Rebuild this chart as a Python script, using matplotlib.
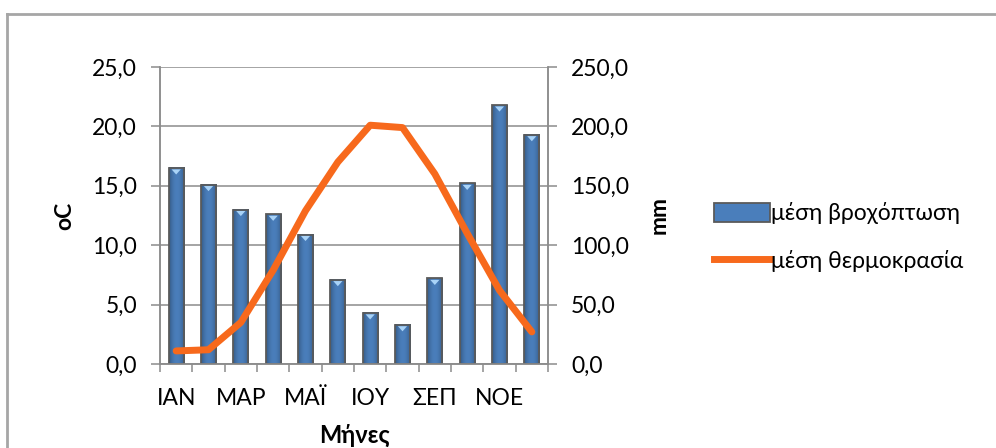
import numpy as np
import matplotlib
matplotlib.use("Agg")
from matplotlib import pyplot as plt
from matplotlib.patches import Rectangle, Polygon
from matplotlib.lines import Line2D
from matplotlib.ticker import FuncFormatter

plt.rcParams["font.family"] = ["Lato", "DejaVu Sans"]

months = ["ΙΑΝ", "ΦΕΒ", "ΜΑΡ", "ΑΠΡ", "ΜΑΪ", "ΙΟΥΝ", "ΙΟΥ", "ΑΥΓ", "ΣΕΠ", "ΟΚΤ", "ΝΟΕ", "ΔΕΚ"]
rain_mm = [165, 151, 130, 126, 109, 71, 43, 33, 72, 152, 218, 193]
temp_c = [1.1, 1.2, 3.5, 7.9, 12.9, 17.0, 20.1, 19.9, 16.0, 11.0, 6.2, 2.7]

rain_label = "μέση βροχόπτωση"
temp_label = "μέση θερμοκρασία"

grey = "#8c8c8c"
bar_blue = "#4a7ebb"
orange = "#f7691c"
fs = 16.5

fig = plt.figure(figsize=(9.96, 4.48), dpi=100)

# outer chart frame (right and bottom edges fall outside the image)
fig.add_artist(Line2D([7 / 996, 1.0], [1 - 14 / 448] * 2, color="#a6a6a6", lw=2))
fig.add_artist(Line2D([7 / 996] * 2, [0, 1 - 14 / 448], color="#a6a6a6", lw=2))

rect = [160 / 996, 1 - 364 / 448, 388 / 996, 297 / 448]
ax_rain = fig.add_axes(rect)
ax_temp = ax_rain.twinx()
ax_rain.yaxis.tick_right()
ax_rain.yaxis.set_label_position("right")
ax_temp.yaxis.tick_left()
ax_temp.yaxis.set_label_position("left")
ax_temp.set_zorder(ax_rain.get_zorder() + 1)
ax_temp.patch.set_visible(False)

x = np.arange(len(months))
width = 0.47

# bars with a soft horizontal shading and a light bevel at the top
shade = np.linspace(-1, 1, 64)
shade = 1 - 0.3 * shade ** 2
base = np.array(matplotlib.colors.to_rgb(bar_blue))
grad = np.clip(base[None, :] * shade[:, None], 0, 1)[None, :, :]
for xi, val in zip(x, rain_mm):
    ax_rain.imshow(grad, extent=(xi - width / 2, xi + width / 2, 0, val),
                   aspect="auto", zorder=2, interpolation="bilinear")
    ax_rain.add_patch(Rectangle((xi - width / 2, 0), width, val, fill=False,
                                edgecolor="#5a5a5a", lw=1.3, zorder=3))
    ax_rain.add_patch(Polygon([(xi - width * 0.3, val - 1.2), (xi + width * 0.3, val - 1.2),
                               (xi, val - 5.5)], closed=True, facecolor="#a9d3f7",
                              edgecolor="none", zorder=4))

ax_temp.plot(x, temp_c, color=orange, lw=5, solid_capstyle="round",
             solid_joinstyle="round", zorder=5)

ax_rain.set_xlim(-0.5, len(months) - 0.5)
ax_rain.set_ylim(0, 250)
ax_temp.set_ylim(0, 25)
ax_rain.set_yticks(np.arange(0, 251, 50))
ax_temp.set_yticks(np.arange(0, 26, 5))

comma = FuncFormatter(lambda v, pos: f"{v:.1f}".replace(".", ","))
ax_rain.yaxis.set_major_formatter(comma)
ax_temp.yaxis.set_major_formatter(comma)

ax_rain.grid(axis="y", color=grey, lw=1.1)
ax_rain.set_axisbelow(True)

ax_rain.set_xticks(np.arange(-0.5, len(months)), [""] * (len(months) + 1))
ax_rain.set_xticks(x, [m if i % 2 == 0 else "" for i, m in enumerate(months)], minor=True)
ax_rain.tick_params(axis="x", which="major", length=6, color=grey, width=1.1)
ax_rain.tick_params(axis="x", which="minor", length=0, pad=17, labelsize=fs)
ax_temp.tick_params(axis="x", which="both", bottom=False, labelbottom=False)

for a in (ax_rain, ax_temp):
    a.tick_params(axis="y", length=6.5, color=grey, width=1.1, labelsize=fs, pad=10)
    for s in a.spines.values():
        s.set_color(grey)
        s.set_linewidth(1.1)
ax_rain.spines["top"].set_visible(False)
ax_temp.spines["top"].set_visible(False)

ax_temp.set_ylabel("oC", fontsize=fs, fontweight="bold", labelpad=12)
ax_rain.set_ylabel("mm", fontsize=fs, fontweight="bold", labelpad=14)
ax_rain.set_xlabel("Μήνες", fontsize=17, fontweight="bold", labelpad=11)

handles = [
    Rectangle((0, 0), 1, 1, facecolor=bar_blue, edgecolor="#5a5a5a", lw=1.3),
    Line2D([], [], color=orange, lw=5),
]
fig.legend(handles, [rain_label, temp_label], loc="center left",
           bbox_to_anchor=(714 / 996, 1 - 237 / 448), frameon=False,
           fontsize=fs, handlelength=2.45, handleheight=0.9, handletextpad=0.05,
           labelspacing=1.1, borderpad=0, borderaxespad=0)

fig.savefig("out.png", dpi=100)
